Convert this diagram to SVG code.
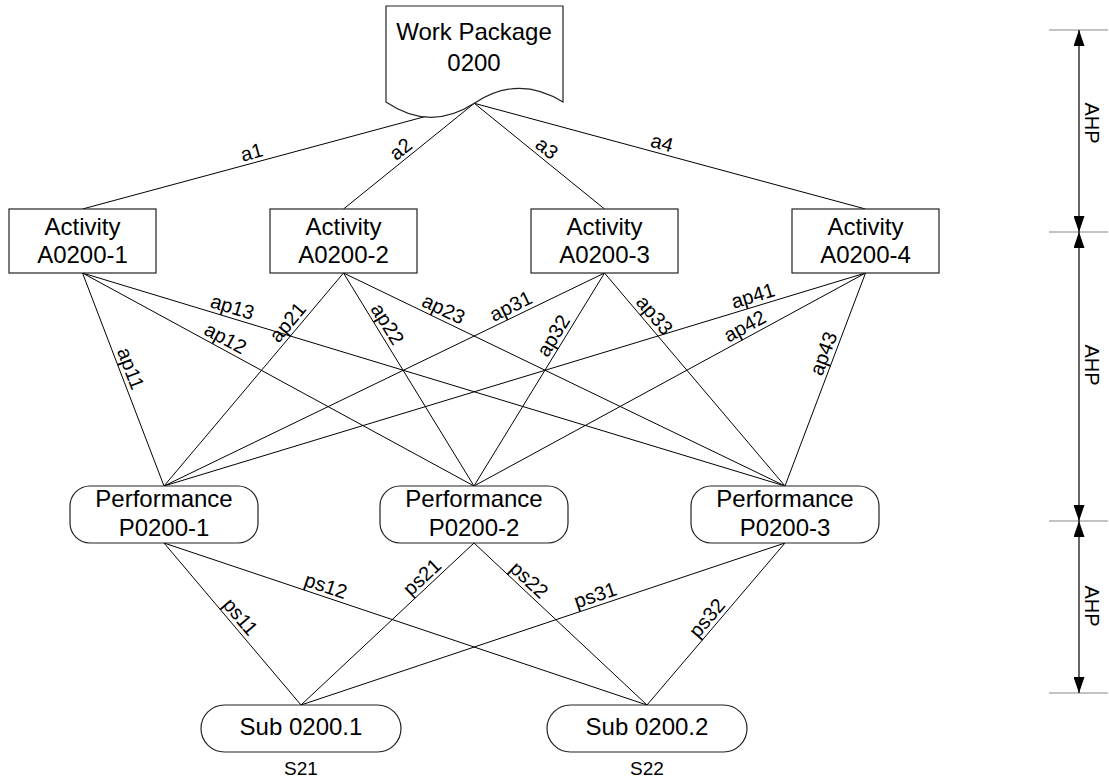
<svg xmlns="http://www.w3.org/2000/svg" width="1109" height="780" viewBox="0 0 1109 780">
<style>
text{font-family:"Liberation Sans",Arial,sans-serif;fill:#000}
.n{font-size:24px;text-anchor:middle}
.l{font-size:20px;text-anchor:middle}
.box{fill:#fff;stroke:#222;stroke-width:1.2}
.c line{stroke:#000;stroke-width:1}
.tick{stroke:#888;stroke-width:1.2}
.dim{stroke:#000;stroke-width:1.2;marker-start:url(#ah);marker-end:url(#ah)}
</style>
<defs>
<marker id="ah" viewBox="0 0 16 11" refX="16" refY="5.5" markerWidth="16" markerHeight="11" markerUnits="userSpaceOnUse" orient="auto-start-reverse">
<path d="M0,0 L16,5.5 L0,11 z" fill="#000"/>
</marker>
</defs>
<rect width="1109" height="780" fill="#fff"/>

<g id="connectors" class="c">
<line x1="474.3" y1="103.3" x2="82.5" y2="209"/>
<line x1="474.3" y1="103.3" x2="343.5" y2="209"/>
<line x1="474.3" y1="103.3" x2="604.5" y2="209"/>
<line x1="474.3" y1="103.3" x2="865.5" y2="209"/>
<line x1="82.5" y1="273" x2="164" y2="486"/>
<line x1="82.5" y1="273" x2="474" y2="486"/>
<line x1="82.5" y1="273" x2="785" y2="486"/>
<line x1="343.5" y1="273" x2="164" y2="486"/>
<line x1="343.5" y1="273" x2="474" y2="486"/>
<line x1="343.5" y1="273" x2="785" y2="486"/>
<line x1="604.5" y1="273" x2="164" y2="486"/>
<line x1="604.5" y1="273" x2="474" y2="486"/>
<line x1="604.5" y1="273" x2="785" y2="486"/>
<line x1="865.5" y1="273" x2="164" y2="486"/>
<line x1="865.5" y1="273" x2="474" y2="486"/>
<line x1="865.5" y1="273" x2="785" y2="486"/>
<line x1="164" y1="543" x2="301" y2="705"/>
<line x1="164" y1="543" x2="647" y2="705"/>
<line x1="474" y1="543" x2="301" y2="705"/>
<line x1="474" y1="543" x2="647" y2="705"/>
<line x1="785" y1="543" x2="301" y2="705"/>
<line x1="785" y1="543" x2="647" y2="705"/>
</g>

<g id="connector-labels">
<text class="l" transform="translate(254.5,162.6) rotate(-15.1)" y="-4">a1</text>
<text class="l" transform="translate(407.5,157.3) rotate(-38.9)" y="-4">a2</text>
<text class="l" transform="translate(540.1,156.7) rotate(39.1)" y="-4">a3</text>
<text class="l" transform="translate(659.3,153.3) rotate(15.1)" y="-4">a4</text>
<text class="l" transform="translate(120.6,372.3) rotate(69.1)" y="-4">ap11</text>
<text class="l" transform="translate(220.3,347.8) rotate(28.6)" y="-4">ap12</text>
<text class="l" transform="translate(229.3,317.3) rotate(16.9)" y="-4">ap13</text>
<text class="l" transform="translate(295.9,329.2) rotate(-49.9)" y="-4">ap21</text>
<text class="l" transform="translate(378.3,329.7) rotate(58.5)" y="-4">ap22</text>
<text class="l" transform="translate(438.9,318.8) rotate(25.8)" y="-4">ap23</text>
<text class="l" transform="translate(515.5,315.8) rotate(-25.8)" y="-4">ap31</text>
<text class="l" transform="translate(562.5,341.4) rotate(-58.5)" y="-4">ap32</text>
<text class="l" transform="translate(646.2,322) rotate(49.8)" y="-4">ap33</text>
<text class="l" transform="translate(756.1,306) rotate(-16.9)" y="-4">ap41</text>
<text class="l" transform="translate(750,335.6) rotate(-28.6)" y="-4">ap42</text>
<text class="l" transform="translate(833.5,357.4) rotate(-69.3)" y="-4">ap43</text>
<text class="l" transform="translate(232.2,623.7) rotate(49.8)" y="-4">ps11</text>
<text class="l" transform="translate(322.4,596.1) rotate(18.5)" y="-4">ps12</text>
<text class="l" transform="translate(429.4,584.8) rotate(-43.1)" y="-4">ps21</text>
<text class="l" transform="translate(521.7,587.7) rotate(43.1)" y="-4">ps22</text>
<text class="l" transform="translate(598.7,605.4) rotate(-18.5)" y="-4">ps31</text>
<text class="l" transform="translate(715.2,625) rotate(-49.6)" y="-4">ps32</text>
</g>

<g id="wp0200">
<path class="box" d="M386,6 L563,6 L563,102 Q518,74 474.3,103.3 Q430,132 386,102 Z"/>
<text class="n" x="474" y="40">Work Package</text>
<text class="n" x="474" y="71">0200</text>
</g>

<g id="a0200-1">
<rect class="box" x="9" y="209" width="147" height="64"/>
<text class="n" x="82.5" y="235">Activity</text>
<text class="n" x="82.5" y="263">A0200-1</text>
</g>
<g id="a0200-2">
<rect class="box" x="270" y="209" width="147" height="64"/>
<text class="n" x="343.5" y="235">Activity</text>
<text class="n" x="343.5" y="263">A0200-2</text>
</g>
<g id="a0200-3">
<rect class="box" x="531" y="209" width="147" height="64"/>
<text class="n" x="604.5" y="235">Activity</text>
<text class="n" x="604.5" y="263">A0200-3</text>
</g>
<g id="a0200-4">
<rect class="box" x="792" y="209" width="147" height="64"/>
<text class="n" x="865.5" y="235">Activity</text>
<text class="n" x="865.5" y="263">A0200-4</text>
</g>

<g id="p0200-1">
<rect class="box" x="70" y="486" width="188" height="57" rx="20"/>
<text class="n" x="164" y="507">Performance</text>
<text class="n" x="164" y="536">P0200-1</text>
</g>
<g id="p0200-2">
<rect class="box" x="380" y="486" width="188" height="57" rx="20"/>
<text class="n" x="474" y="507">Performance</text>
<text class="n" x="474" y="536">P0200-2</text>
</g>
<g id="p0200-3">
<rect class="box" x="691" y="486" width="188" height="57" rx="20"/>
<text class="n" x="785" y="507">Performance</text>
<text class="n" x="785" y="536">P0200-3</text>
</g>

<g id="s0200-1">
<rect class="box" x="201" y="705" width="200" height="47" rx="23.5"/>
<text class="n" x="301" y="735">Sub 0200.1</text>
<text class="l" x="301" y="775" style="font-size:19px">S21</text>
</g>
<g id="s0200-2">
<rect class="box" x="547" y="705" width="200" height="47" rx="23.5"/>
<text class="n" x="647" y="735">Sub 0200.2</text>
<text class="l" x="647" y="775" style="font-size:19px">S22</text>
</g>

<g id="ahp-scale">
<line class="tick" x1="1049" y1="30" x2="1108" y2="30"/>
<line class="tick" x1="1049" y1="232" x2="1108" y2="232"/>
<line class="tick" x1="1049" y1="521" x2="1108" y2="521"/>
<line class="tick" x1="1049" y1="693" x2="1108" y2="693"/>
<line class="dim" x1="1079" y1="30" x2="1079" y2="232"/>
<line class="dim" x1="1079" y1="232" x2="1079" y2="521"/>
<line class="dim" x1="1079" y1="521" x2="1079" y2="693"/>
<text class="l" transform="translate(1092,123) rotate(90)" y="7">AHP</text>
<text class="l" transform="translate(1092,365) rotate(90)" y="7">AHP</text>
<text class="l" transform="translate(1092,606) rotate(90)" y="7">AHP</text>
</g>
</svg>
